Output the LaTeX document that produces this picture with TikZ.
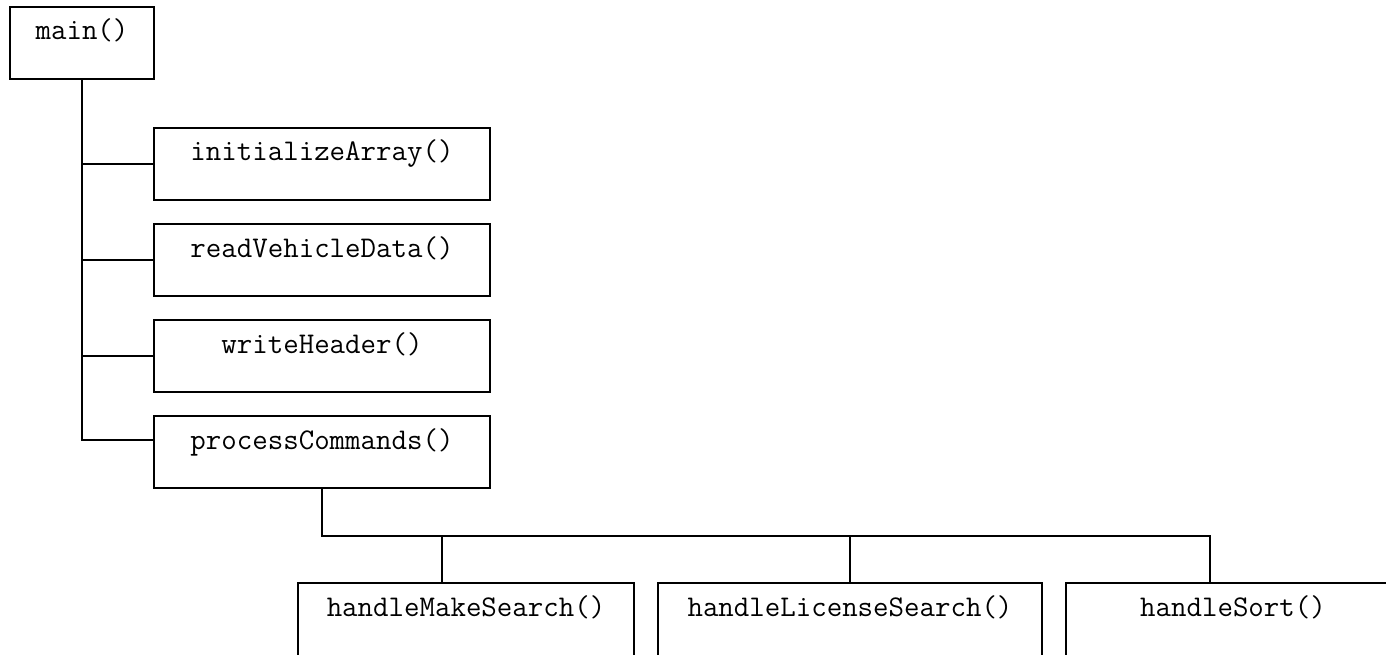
\documentclass[tikz,border=0pt]{standalone}
\usepackage{tikz}
\usetikzlibrary{positioning}
\tikzset{
    funcbox/.style={rectangle, draw, line width=0.8pt, inner sep=0pt, align=center,
        font=\ttfamily\fontsize{17.1}{20}\selectfont, text height=0.66cm, text depth=0.78cm},
    leafbox/.style={funcbox, text depth=0.94cm},
    link/.style={line width=0.8pt}
}

\begin{document}
\begin{tikzpicture}[x=0.02cm, y=-0.02cm]
    \clip (0,0) rectangle (1386,655);

    % Functions
    \node[funcbox, minimum width=2.88cm] (main) at (82,43) {main()};
    \node[funcbox, minimum width=6.72cm] (init) at (322,164) {initializeArray()};
    \node[funcbox, minimum width=6.72cm] (read) at (322,260) {readVehicleData()};
    \node[funcbox, minimum width=6.72cm] (head) at (322,356) {writeHeader()};
    \node[funcbox, minimum width=6.72cm] (proc) at (322,452) {processCommands()};
    \node[leafbox, minimum width=6.72cm] (make) at (466,623) {handleMakeSearch()};
    \node[leafbox, minimum width=7.68cm] (lic) at (850,623) {handleLicenseSearch()};
    \node[leafbox, minimum width=6.68cm] (sort) at (1233,623) {handleSort()};

    % Calls from main
    \draw[link] (main.south) |- (init.west);
    \draw[link] (main.south) |- (read.west);
    \draw[link] (main.south) |- (head.west);
    \draw[link] (main.south) |- ([yshift=0.24cm]proc.west);

    % Calls from processCommands
    \coordinate (bus) at (322,536);
    \draw[link] (proc.south) -- (bus) -| ([xshift=-0.46cm]sort.north);
    \draw[link] ([xshift=-0.48cm]make.north) coordinate (m) -- (m |- bus);
    \draw[link] (lic.north) -- (lic.north |- bus);
\end{tikzpicture}
\end{document}
